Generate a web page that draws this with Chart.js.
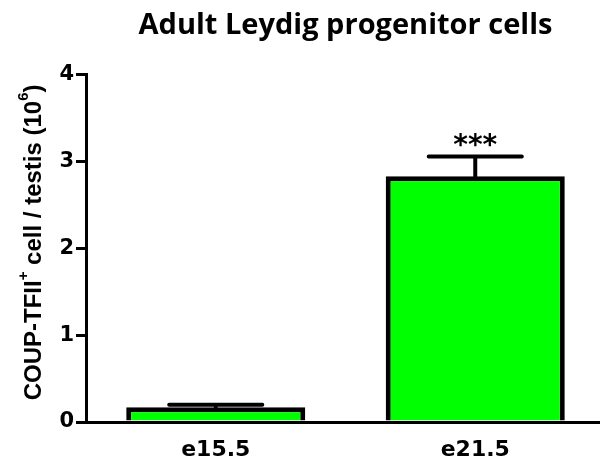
<!DOCTYPE html>
<html>
<head>
<meta charset="utf-8">
<script src="https://cdn.jsdelivr.net/npm/chart.js@4.4.0/dist/chart.umd.min.js"></script>
<style>
  html, body { margin: 0; padding: 0; background: #fff; overflow: hidden; }
  #wrap { width: 605px; height: 464px; }
</style>
</head>
<body>
<div id="wrap"><canvas id="canvas" width="605" height="464"></canvas></div>
<script>
// 胚胎日龄
var ages = ["e15.5", "e21.5"];
// 每个睾丸的 COUP-TFII+ 细胞数 (10^6)
var cellCounts = [0.17, 2.83];
// 误差 (SEM)
var sem = [0.03, 0.23];
// 显著性标记
var stars = ["", "***"];
// Y轴刻度
var yTicks = [0, 1, 2, 3, 4];

var chartTitle = "Adult Leydig progenitor cells";
// Y轴标题, 第二项为 true 的是上标
var yTitleParts = [
    ["COUP-TFII", false],
    ["+", true],
    [" cell / testis (10", false],
    ["6", true],
    [")", false]
];

// 误差线和星号
var errorBarPlugin = {
    id: 'errorBars',
    afterDatasetsDraw: function (chart) {
        var ctx = chart.ctx;
        var meta = chart.getDatasetMeta(0);
        var yScale = chart.scales.y;
        ctx.save();
        ctx.strokeStyle = '#000';
        ctx.fillStyle = '#000';
        ctx.lineWidth = 4;
        ctx.lineCap = 'round';
        meta.data.forEach(function (bar, i) {
            var top = yScale.getPixelForValue(cellCounts[i] + sem[i]);
            var half = bar.width * 0.26;
            ctx.beginPath();
            ctx.moveTo(bar.x, bar.y);
            ctx.lineTo(bar.x, top);
            ctx.moveTo(bar.x - half, top);
            ctx.lineTo(bar.x + half, top);
            ctx.stroke();
            if (stars[i]) {
                ctx.font = 'bold 28px "DejaVu Sans"';
                ctx.textAlign = 'center';
                ctx.textBaseline = 'middle';
                ctx.fillText(stars[i], bar.x, top - 10);
            }
        });
        ctx.restore();
    }
};

// 带上标的竖排Y轴标题
var yTitlePlugin = {
    id: 'yTitle',
    afterDraw: function (chart) {
        var ctx = chart.ctx;
        var area = chart.chartArea;
        var mainFont = 'bold 24px "Liberation Sans"';
        var supFont = 'bold 15px "Liberation Sans"';
        ctx.save();
        var total = 0;
        yTitleParts.forEach(function (p) {
            ctx.font = p[1] ? supFont : mainFont;
            total += ctx.measureText(p[0]).width;
        });
        ctx.translate(34, (area.top + area.bottom) / 2 - 6);
        ctx.rotate(-Math.PI / 2);
        ctx.fillStyle = '#000';
        ctx.textBaseline = 'middle';
        ctx.textAlign = 'left';
        var x = -total / 2;
        yTitleParts.forEach(function (p) {
            ctx.font = p[1] ? supFont : mainFont;
            ctx.fillText(p[0], x, p[1] ? -10 : 0);
            x += ctx.measureText(p[0]).width;
        });
        ctx.restore();
    }
};

var ctx = document.getElementById('canvas');
var myBarChart = new Chart(ctx, {
    type: 'bar',
    data: {
        labels: ages,
        datasets: [{
            data: cellCounts,
            backgroundColor: '#00ff00',
            borderColor: '#000',
            borderWidth: 5,
            barPercentage: 0.69,
            categoryPercentage: 1
        }]
    },
    options: {
        responsive: false,
        animation: false,
        devicePixelRatio: 1,
        layout: { padding: { left: 0, right: 0, top: 0, bottom: 0 } },
        plugins: {
            legend: { display: false },
            tooltip: { enabled: false },
            title: {
                display: true,
                text: chartTitle,
                fullSize: false,
                color: '#000',
                font: { family: 'Open Sans', weight: 'bold', size: 29 },
                padding: { top: 8, bottom: 32 }
            }
        },
        scales: {
            x: {
                afterFit: function (s) { s.height = 42; },
                border: { color: '#000', width: 3 },
                grid: { display: false, drawTicks: false },
                ticks: {
                    color: '#000',
                    font: { family: 'DejaVu Sans', weight: 'bold', size: 22 },
                    padding: 15
                }
            },
            y: {
                min: 0,
                max: 4,
                afterFit: function (s) { s.width = 86; },
                afterBuildTicks: function (s) {
                    s.ticks = yTicks.map(function (v) { return { value: v }; });
                },
                border: { color: '#000', width: 3 },
                grid: {
                    drawOnChartArea: false,
                    drawTicks: true,
                    tickLength: 10,
                    color: '#000',
                    lineWidth: 3
                },
                ticks: {
                    color: '#000',
                    font: { family: 'DejaVu Sans', weight: 'bold', size: 21 },
                    padding: 2
                }
            }
        }
    },
    plugins: [errorBarPlugin, yTitlePlugin]
});
</script>
</body>
</html>
